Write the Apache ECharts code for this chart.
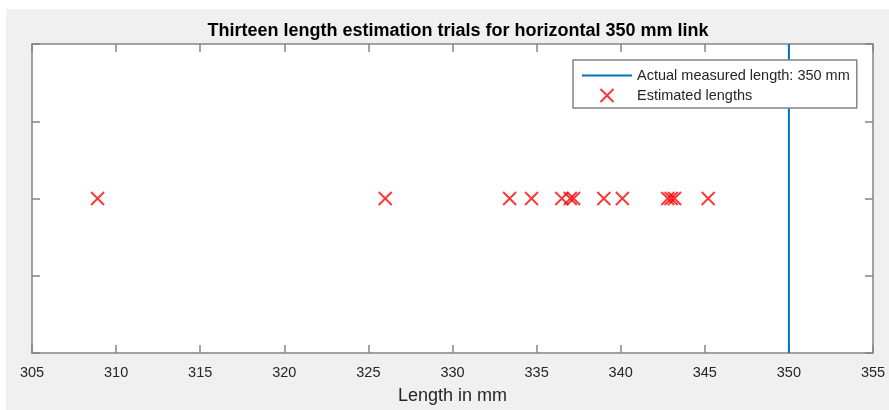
<!DOCTYPE html>
<html>
<head>
<meta charset="utf-8">
<script src="https://cdn.jsdelivr.net/npm/echarts@6/dist/echarts.min.js"></script>
<style>
html,body{margin:0;padding:0;background:#fff;}
#chart{width:889px;height:410px;}
</style>
</head>
<body>
<div id="chart"></div>
<script>
// ---- data ----
const titleText = 'Thirteen length estimation trials for horizontal 350 mm link';
const xAxisName = 'Length in mm';
const actualLength = 350;
const actualName = 'Actual measured length: 350 mm';
const estimatedName = 'Estimated lengths';
const estimatedLengths = [308.9, 326.0, 333.4, 334.7, 336.5, 337.0, 337.2, 339.0, 340.1, 342.8, 343.0, 343.2, 345.2];
const rowLevel = 1; // all estimates plotted on the same horizontal level
const xMin = 305, xMax = 355, xStep = 5;
const yMin = 0, yMax = 2, yStep = 0.5;

const axisGray = '#858585';
const textDark = '#262626';
const font = '"Liberation Sans", Arial, Helvetica, sans-serif';
const xMarker = 'path://M0,0L10,10M10,0L0,10';
const lineIcon = 'path://M0,0L50,0L50,2L0,2Z';

const chart = echarts.init(document.getElementById('chart'), null, {renderer: 'canvas'});

const yAxisCommon = {
  type: 'value', min: yMin, max: yMax, interval: yStep,
  axisLine: {show: true, onZero: false, lineStyle: {color: axisGray, width: 1.5}},
  axisTick: {show: true, inside: true, length: 8, lineStyle: {color: axisGray, width: 1.5}},
  axisLabel: {show: false},
  splitLine: {show: false}
};
const xAxisCommon = {
  type: 'value', min: xMin, max: xMax, interval: xStep,
  axisLine: {show: true, onZero: false, lineStyle: {color: axisGray, width: 1.5}},
  axisTick: {show: true, inside: true, length: 8, lineStyle: {color: axisGray, width: 1.5}},
  splitLine: {show: false}
};

chart.setOption({
  backgroundColor: '#ffffff',
  animation: false,
  graphic: [{
    type: 'rect', z: -10, silent: true,
    shape: {x: 6, y: 9, width: 889 - 6, height: 410 - 9},
    style: {fill: '#f0f0f0'}
  }],
  title: {
    text: titleText,
    left: 453, top: 17, textAlign: 'center',
    textStyle: {fontFamily: font, fontSize: 18, fontWeight: 'bold', color: '#000'}
  },
  grid: {
    left: 32, right: 16, top: 44, bottom: 57,
    show: true, backgroundColor: '#ffffff', borderWidth: 0
  },
  legend: {
    orient: 'vertical',
    left: 573, top: 60,
    padding: [8, 7, 5, 9],
    itemGap: 5,
    itemWidth: 50, itemHeight: 13,
    backgroundColor: '#ffffff',
    borderColor: axisGray, borderWidth: 1.5,
    textStyle: {fontFamily: font, fontSize: 14.5, color: textDark},
    data: [
      {name: actualName, icon: lineIcon},
      {name: estimatedName, icon: xMarker}
    ]
  },
  xAxis: [
    Object.assign({}, xAxisCommon, {
      position: 'bottom',
      name: xAxisName, nameLocation: 'middle', nameGap: 34,
      nameTextStyle: {fontFamily: font, fontSize: 18, color: textDark},
      axisLabel: {show: true, margin: 12, fontFamily: font, fontSize: 14.5, color: textDark}
    }),
    Object.assign({}, xAxisCommon, {position: 'top', axisLabel: {show: false}})
  ],
  yAxis: [
    Object.assign({}, yAxisCommon, {position: 'left'}),
    Object.assign({}, yAxisCommon, {position: 'right'})
  ],
  series: [
    {
      name: actualName,
      type: 'line',
      xAxisIndex: 0, yAxisIndex: 0,
      data: [[actualLength, yMin], [actualLength, yMax]],
      symbol: 'none', showSymbol: false,
      lineStyle: {color: '#0072BD', width: 2},
      itemStyle: {color: '#0072BD'},
      z: 3
    },
    {
      name: estimatedName,
      type: 'scatter',
      xAxisIndex: 0, yAxisIndex: 0,
      data: estimatedLengths.map(v => [v, rowLevel]),
      symbol: xMarker,
      symbolSize: 13,
      itemStyle: {color: 'rgba(0,0,0,0)', borderColor: '#ff0000', borderWidth: 1.8},
      z: 4
    }
  ]
});
</script>
</body>
</html>
